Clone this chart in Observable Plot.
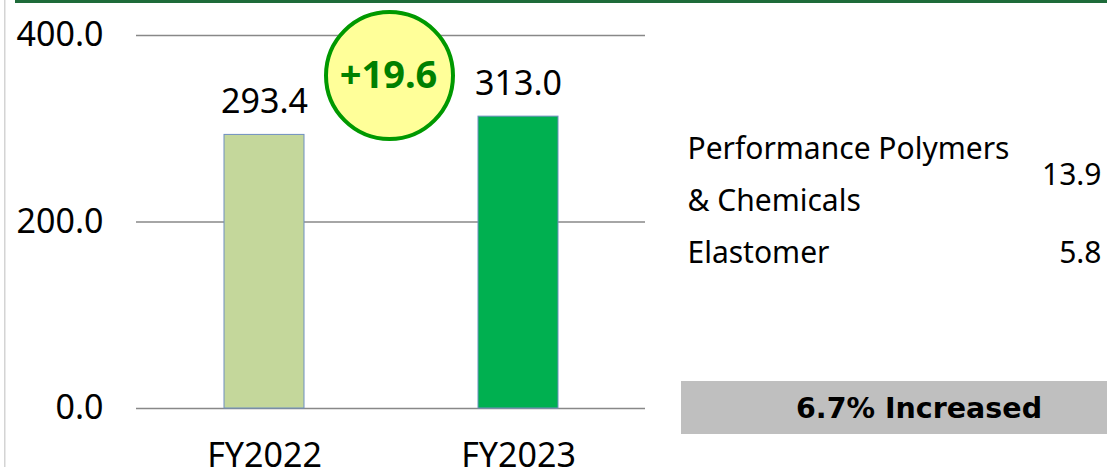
<!DOCTYPE html>
<html><head><meta charset="utf-8">
<script src="https://cdn.jsdelivr.net/npm/d3@7"></script>
<script src="https://cdn.jsdelivr.net/npm/@observablehq/plot@0.6"></script>
<style>html,body{margin:0;padding:0;background:#fff;overflow:hidden}</style>
</head><body><div id="chart"></div>
<script>
// ---- data ----
const categories = ["FY2022", "FY2023"];
const values = [293.4, 313.0];
const barColors = ["#c4d79b", "#00b050"];
const yTicks = [0, 200, 400];
const changeLabel = "+19.6";
const breakdownLabels = [["Performance Polymers", "& Chemicals"], ["Elastomer"]];
const breakdownValues = ["13.9", "5.8"];
const summaryLabel = "6.7% Increased";

const data = categories.map((c, i) => ({category: c, value: values[i], color: barColors[i]}));
const SVGNS = "http://www.w3.org/2000/svg";
function fixedRect(x, y, w, h, fill) {
  return () => {
    const r = document.createElementNS(SVGNS, "rect");
    r.setAttribute("x", x); r.setAttribute("y", y);
    r.setAttribute("width", w); r.setAttribute("height", h);
    r.setAttribute("fill", fill);
    return r;
  };
}
const font = "'Noto Sans', sans-serif";

// right-panel line layout (pixel offsets from the frame's top-right corner)
const lineMarks = [];
const valueMarks = [];
let lineIdx = 0;
breakdownLabels.forEach((lines, i) => {
  const centers = [];
  lines.forEach(line => {
    const dy = 113.5 + 52 * lineIdx;
    centers.push(dy);
    lineMarks.push(Plot.text([line], {text: d => d, frameAnchor: "top-right", dx: 42, dy, textAnchor: "start", lineAnchor: "middle", fontSize: 30, fill: "#000"}));
    lineIdx++;
  });
  const vdy = d3.mean(centers);
  valueMarks.push(Plot.text([breakdownValues[i]], {text: d => d, frameAnchor: "top-right", dx: 456, dy: vdy, textAnchor: "end", lineAnchor: "middle", fontSize: 30, fill: "#000"}));
});

const chart = Plot.plot({
  width: 1107, height: 467,
  marginLeft: 136, marginRight: 462, marginTop: 35, marginBottom: 59,
  style: {fontFamily: font, fontSize: "34px", color: "#000", background: "#fff"},
  x: {domain: categories, paddingInner: 0.686, paddingOuter: 0.343, label: null},
  y: {domain: [0, 400], label: null},
  color: {type: "identity"},
  marks: [
    fixedRect(4, 0, 1.5, 467, "#d4d4d4"),
    fixedRect(15, 0, 1092, 3, "#1e6b3a"),
    Plot.gridY(yTicks, {stroke: "#888", strokeOpacity: 1, strokeWidth: 1.3}),
    Plot.axisY({ticks: yTicks, tickSize: 0, tickPadding: 33, tickFormat: d => d.toFixed(1), fontSize: 34, label: null, fill: "#000"}),
    Plot.axisX({tickSize: 0, tickPadding: 34, fontSize: 34, label: null, fill: "#000"}),
    Plot.barY(data, {x: "category", y: "value", fill: "color", stroke: "#6f8fc0", strokeWidth: 1}),
    Plot.text(data, {x: "category", y: "value", text: d => d.value.toFixed(1), lineAnchor: "bottom", dy: -22, fontSize: 34, fill: "#000"}),
    Plot.dot([changeLabel], {frameAnchor: "top-left", dx: 253, dy: 40, r: 63.5, fill: "#ffff99", stroke: "#009900", strokeWidth: 4}),
    Plot.text([changeLabel], {text: d => d, frameAnchor: "top-left", dx: 252, dy: 40, textAnchor: "middle", lineAnchor: "middle", fontSize: 38, fontWeight: "bold", fill: "#008000"}),
    ...lineMarks,
    ...valueMarks,
    fixedRect(681, 381, 426, 53, "#bfbfbf"),
    Plot.text([summaryLabel], {text: d => d, frameAnchor: "top-right", dx: 273.5, dy: 373, textAnchor: "middle", lineAnchor: "middle", fontSize: 28.5, fontWeight: "bold", fontFamily: "'DejaVu Sans', sans-serif", fill: "#000"})
  ]
});
document.getElementById("chart").appendChild(chart);
</script>
</body></html>
